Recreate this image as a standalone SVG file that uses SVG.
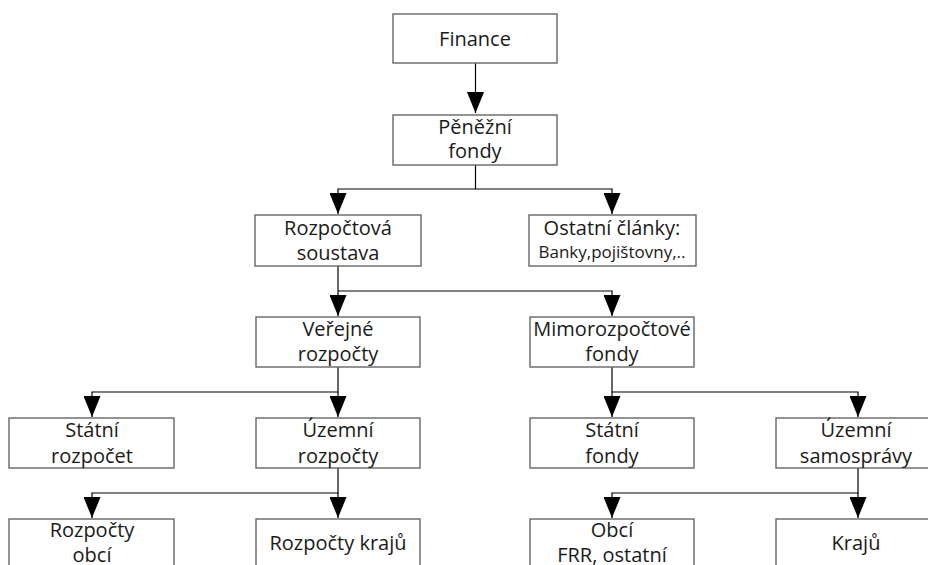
<svg xmlns="http://www.w3.org/2000/svg" width="928" height="565" viewBox="0 0 928 565">
<style>
.box{fill:#fff;stroke:#666;stroke-width:1.4}
.t{font-family:"Open Sans","Liberation Sans",sans-serif;font-size:20px;fill:#1a1a1a;text-anchor:middle}
.s{font-size:17px}
.c{fill:none;stroke:#000;stroke-width:1.2}
</style>
<defs>
<marker id="ah" markerUnits="userSpaceOnUse" markerWidth="21" markerHeight="17" refX="21" refY="8.5" orient="auto" viewBox="0 0 21 17">
<path d="M0,0 L21,8.5 L0,17 Z" fill="#000"/>
</marker>
</defs>
<rect width="928" height="565" fill="#fff"/>
<g id="connectors">
<path class="c" d="M475.5,63 V113" marker-end="url(#ah)"/>
<path class="c" d="M475.5,165 V189 H338 V214" marker-end="url(#ah)"/>
<path class="c" d="M475.5,189 H612 V214" marker-end="url(#ah)"/>
<path class="c" d="M338,266 V316" marker-end="url(#ah)"/>
<path class="c" d="M338,291 H612 V316" marker-end="url(#ah)"/>
<path class="c" d="M338,367 V392 H92 V417" marker-end="url(#ah)"/>
<path class="c" d="M338,392 V417" marker-end="url(#ah)"/>
<path class="c" d="M612,367 V417" marker-end="url(#ah)"/>
<path class="c" d="M612,392 H858 V417" marker-end="url(#ah)"/>
<path class="c" d="M338,468 V493 H92 V518" marker-end="url(#ah)"/>
<path class="c" d="M338,493 V518" marker-end="url(#ah)"/>
<path class="c" d="M858,468 V493 H612 V518" marker-end="url(#ah)"/>
<path class="c" d="M858,493 V518" marker-end="url(#ah)"/>
</g>
<g id="finance"><rect class="box" x="393" y="14" width="164" height="49"/><text class="t" x="475" y="46">Finance</text></g>
<g id="penezni"><rect class="box" x="393" y="115" width="164" height="50"/><text class="t" x="475" y="134">Pěněžní</text><text class="t" x="475" y="158">fondy</text></g>
<g id="rozpoctova"><rect class="box" x="255" y="215" width="166" height="51"/><text class="t" x="338" y="235">Rozpočtová</text><text class="t" x="338" y="260">soustava</text></g>
<g id="ostatni"><rect class="box" x="529" y="215" width="167" height="51"/><text class="t" x="612" y="235">Ostatní články:</text><text class="t s" x="612" y="258">Banky,pojištovny,..</text></g>
<g id="verejne"><rect class="box" x="256" y="317" width="164" height="50"/><text class="t" x="338" y="336">Veřejné</text><text class="t" x="338" y="361">rozpočty</text></g>
<g id="mimorozpoctove"><rect class="box" x="530" y="317" width="164" height="50"/><text class="t" x="612" y="336">Mimorozpočtové</text><text class="t" x="612" y="361">fondy</text></g>
<g id="statni-rozpocet"><rect class="box" x="9" y="418" width="165" height="50"/><text class="t" x="92" y="437">Státní</text><text class="t" x="92" y="463">rozpočet</text></g>
<g id="uzemni-rozpocty"><rect class="box" x="256" y="418" width="164" height="50"/><text class="t" x="338" y="437">Územní</text><text class="t" x="338" y="463">rozpočty</text></g>
<g id="statni-fondy"><rect class="box" x="530" y="418" width="164" height="50"/><text class="t" x="612" y="437">Státní</text><text class="t" x="612" y="463">fondy</text></g>
<g id="uzemni-samospravy"><rect class="box" x="776" y="418" width="170" height="50"/><text class="t" x="856" y="437">Územní</text><text class="t" x="856" y="463">samosprávy</text></g>
<g id="rozpocty-obci"><rect class="box" x="9" y="519" width="165" height="60"/><text class="t" x="92" y="537">Rozpočty</text><text class="t" x="92" y="562">obcí</text></g>
<g id="rozpocty-kraju"><rect class="box" x="256" y="519" width="164" height="60"/><text class="t" x="338" y="550">Rozpočty krajů</text></g>
<g id="obci"><rect class="box" x="530" y="519" width="164" height="60"/><text class="t" x="612" y="537">Obcí</text><text class="t" x="612" y="562">FRR, ostatní</text></g>
<g id="kraju"><rect class="box" x="776" y="519" width="170" height="60"/><text class="t" x="856" y="550">Krajů</text></g>
</svg>
